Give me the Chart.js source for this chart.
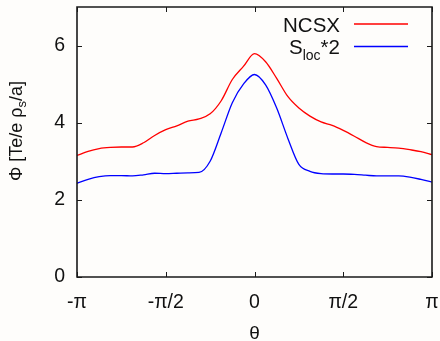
<!DOCTYPE html>
<html lang="en">
<head>
  <meta charset="UTF-8" />
  <title>NCSX potential profile</title>
  <script src="https://cdn.jsdelivr.net/npm/chart.js"></script>
  <style>
    html, body { margin: 0; padding: 0; background: #fefdfb; }
  </style>
</head>
<body>
  <canvas id="phiChart" width="440" height="341"></canvas>

  <script>
    const PI = Math.PI;

    // theta grid, step pi/16 from -pi to pi
    const thetaSteps = [-16, -15, -14, -13, -12, -11, -10, -9, -8, -7, -6, -5, -4, -3, -2, -1, 0,
                        1, 2, 3, 4, 5, 6, 7, 8, 9, 10, 11, 12, 13, 14, 15, 16];
    const ncsx = [3.15, 3.26, 3.33, 3.36, 3.37, 3.37, 3.48, 3.67, 3.82, 3.92, 4.04, 4.10, 4.23, 4.57, 5.12, 5.46, 5.79,
                  5.58, 5.15, 4.68, 4.38, 4.17, 4.02, 3.93, 3.80, 3.65, 3.49, 3.38, 3.36, 3.34, 3.30, 3.25, 3.17];
    const sloc2 = [2.43, 2.53, 2.60, 2.63, 2.63, 2.62, 2.65, 2.69, 2.68, 2.69, 2.70, 2.71, 3.00, 3.74, 4.52, 5.00, 5.25,
                   4.98, 4.38, 3.60, 2.92, 2.74, 2.68, 2.67, 2.67, 2.66, 2.64, 2.62, 2.62, 2.62, 2.59, 2.53, 2.46];

    const xTicks = [-PI, -PI / 2, 0, PI / 2, PI];
    const xTickLabels = ['-\u03c0', '-\u03c0/2', '0', '\u03c0/2', '\u03c0'];
    const yTicks = [0, 2, 4, 6];

    const FONT = '"Liberation Sans", Arial, sans-serif';

    const toPoints = vals => vals.map((v, i) => ({ x: thetaSteps[i] * PI / 16, y: v }));

    // frame, inward ticks, axis titles and legend (with subscripts)
    const decor = {
      id: 'decor',
      afterDraw(chart) {
        const ctx = chart.ctx;
        const a = chart.chartArea;
        const sx = chart.scales.x, sy = chart.scales.y;
        ctx.save();
        ctx.strokeStyle = '#1a1a1a';
        ctx.lineWidth = 1;
        xTicks.forEach(t => {
          const px = Math.round(sx.getPixelForValue(t)) + 0.5;
          ctx.beginPath();
          ctx.moveTo(px, a.bottom); ctx.lineTo(px, a.bottom - 5);
          ctx.moveTo(px, a.top); ctx.lineTo(px, a.top + 5);
          ctx.stroke();
        });
        yTicks.forEach(t => {
          const py = Math.round(sy.getPixelForValue(t)) + 0.5;
          ctx.beginPath();
          ctx.moveTo(a.left, py); ctx.lineTo(a.left + 5, py);
          ctx.moveTo(a.right, py); ctx.lineTo(a.right - 5, py);
          ctx.stroke();
        });
        ctx.lineWidth = 1.6;
        ctx.beginPath();
        ctx.rect(a.left, a.top, a.right - a.left, a.bottom - a.top);
        ctx.stroke();

        ctx.fillStyle = '#111';
        ctx.textBaseline = 'alphabetic';

        // x title
        ctx.font = '19px ' + FONT;
        ctx.textAlign = 'center';
        ctx.fillText('\u03b8', sx.getPixelForValue(0), 339);

        // y title, rotated
        ctx.save();
        ctx.translate(22, 131);
        ctx.rotate(-PI / 2);
        const big = '18px ' + FONT, small = '13px ' + FONT;
        const parts = [['\u03a6 [Te/e \u03c1', big, 0], ['s', small, 4], ['/a]', big, 0]];
        ctx.textAlign = 'left';
        let w = 0;
        parts.forEach(p => { ctx.font = p[1]; w += ctx.measureText(p[0]).width; });
        let x = -w / 2;
        parts.forEach(p => { ctx.font = p[1]; ctx.fillText(p[0], x, p[2]); x += ctx.measureText(p[0]).width; });
        ctx.restore();

        // legend
        const lbig = '20.5px ' + FONT, lsmall = '14px ' + FONT;
        const entries = [
          { parts: [['NCSX', lbig, 0]], y: 24, color: '#ff0000' },
          { parts: [['S', lbig, 0], ['loc', lsmall, 6], ['*2', lbig, 0]], y: 46.5, color: '#0000ff' }
        ];
        entries.forEach(e => {
          let tw = 0;
          e.parts.forEach(p => { ctx.font = p[1]; tw += ctx.measureText(p[0]).width; });
          let tx = 340 - tw;
          ctx.textAlign = 'left';
          e.parts.forEach(p => { ctx.font = p[1]; ctx.fillText(p[0], tx, e.y + 7.5 + p[2]); tx += ctx.measureText(p[0]).width; });
          ctx.strokeStyle = e.color;
          ctx.lineWidth = 1.3;
          ctx.beginPath();
          ctx.moveTo(354, e.y); ctx.lineTo(408, e.y);
          ctx.stroke();
        });
        ctx.restore();
      }
    };

    const bg = {
      id: 'bg',
      beforeDraw(chart) {
        const { ctx, width, height } = chart;
        ctx.save();
        ctx.fillStyle = '#fefdfb';
        ctx.fillRect(0, 0, width, height);
        ctx.restore();
      }
    };

    new Chart(document.getElementById('phiChart'), {
      type: 'line',
      data: {
        datasets: [
          { label: 'NCSX', data: toPoints(ncsx), borderColor: '#ff0000', borderWidth: 1.3, cubicInterpolationMode: 'monotone', pointRadius: 0 },
          { label: 'Sloc*2', data: toPoints(sloc2), borderColor: '#0000ff', borderWidth: 1.3, cubicInterpolationMode: 'monotone', pointRadius: 0 }
        ]
      },
      options: {
        responsive: false,
        animation: false,
        layout: { padding: { top: 7, right: 8, left: 0, bottom: 0 } },
        plugins: { legend: { display: false }, tooltip: { enabled: false } },
        scales: {
          x: {
            type: 'linear',
            min: -PI,
            max: PI,
            afterBuildTicks: s => { s.ticks = xTicks.map(v => ({ value: v })); },
            afterFit: s => { s.height = 64; s.paddingLeft = 0; s.paddingRight = 0; },
            grid: { display: false, drawTicks: false },
            border: { display: false },
            ticks: {
              padding: 14,
              color: '#111',
              font: { family: FONT, size: 19.5 },
              maxRotation: 0,
              autoSkip: false,
              callback: v => xTickLabels[xTicks.findIndex(t => Math.abs(t - v) < 1e-6)]
            }
          },
          y: {
            min: 0,
            max: 7,
            afterBuildTicks: s => { s.ticks = yTicks.map(v => ({ value: v })); },
            afterFit: s => { s.width = 77; s.paddingTop = 0; s.paddingBottom = 0; },
            grid: { display: false, drawTicks: false },
            border: { display: false },
            ticks: { padding: 12, color: '#111', font: { family: FONT, size: 19.5 } }
          }
        }
      },
      plugins: [bg, decor]
    });
  </script>
</body>
</html>
